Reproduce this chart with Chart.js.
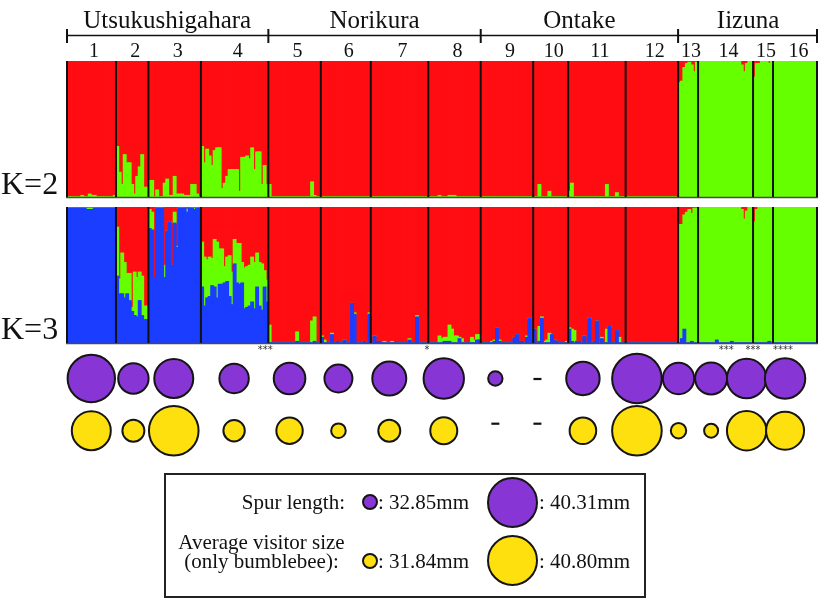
<!DOCTYPE html>
<html>
<head>
<meta charset="utf-8">
<script src="https://cdn.jsdelivr.net/npm/chart.js@4.4.1/dist/chart.umd.min.js"></script>
<style>
  html, body { margin: 0; padding: 0; background: #fff; }
  #wrap { position: relative; width: 825px; height: 599px; overflow: hidden;
          font-family: "Liberation Serif", "Times New Roman", serif; color: #111; }
  #wrap canvas { position: absolute; left: 0; top: 0; }
  .box { position: absolute; left: 164px; top: 473px; width: 482px; height: 125px;
         box-sizing: border-box; border: 2px solid #222; }
  .t { position: absolute; font-size: 21px; line-height: 24px; white-space: nowrap; }
  .dot { position: absolute; box-sizing: border-box; border: 2px solid #151515; border-radius: 50%; }
</style>
</head>
<body>
<div id="wrap">
  <canvas id="k2" width="825" height="599"></canvas>
  <canvas id="k3" width="825" height="599"></canvas>
  <canvas id="traits" width="825" height="599"></canvas>
  <div class="box"></div>
  <div id="legend"></div>
</div>
<script>
// --- data ---
const regions = ['Utsukushigahara', 'Norikura', 'Ontake', 'Iizuna'];
const regionPops = [4, 4, 4, 4];
const popLabels = ['1', '2', '3', '4', '5', '6', '7', '8', '9', '10', '11', '12', '13', '14', '15', '16'];

// K=2: green membership (%) of every individual, one list per population (rest is red)
const k2Green = [
  [0,0,0,0,0,0,1,0,0,2,1,1,0,0,0,0,0,0,0,1],
  [37,18,9,31,25,25,9,2,15,22,31,7,7],
  [12,12,0,5,0,0,10,13,1,1,15,2,2,2,1,1,1,9,9,2,0],
  [37,25,35,30,23,34,36,36,6,10,15,20,20,20,20,4,29,29,30,28,36,20,33,33,9,23,9],
  [9,0,0,0,0,0,0,0,0,0,0,0,0,0,0,0,0,11,1,0,0],
  [0,0,0,0,0,0,0,0,0,0,0,0,0,0,0,0,0,0,0,0],
  [0,0,0,0,0,0,0,0,0,0,0,0,0,0,0,0,0,0,0,0,0,0,0],
  [0,0,0,0,1,0,0,0,1,1,1,0,0,0,0,0,0,0,0,0,0],
  [0,0,0,0,0,0,0,0,0,0,0,0,0,0,0,0,0,0,0,0,0],
  [0,0,9,0,0,0,4,0,0,0,0,0,0,0],
  [4,10,0,0,0,0,0,0,0,0,0,0,0,0,0,9,0,0,0,3,0,0,0],
  [0,0,0,0,0,0,0,0,0,0,0,0,0,0,0,0,0,0,0,0,0],
  [84,85,95,98,99,97,92,99],
  [100,100,100,100,100,100,100,100,100,100,100,100,100,100,100,100,100,97,92,98,100,100],
  [88,98,98,100,100,100,98,100],
  [100,100,100,100,100,100,100,100,100,100,100,100,100,100,100,100,100,100]
];

// K=3: green and blue membership (%), red is the rest
const k3Green = [
  [0,0,0,0,0,0,0,0,1,1,1,0,0,0,0,0,0,0,0,0],
  [36,11,30,26,15,20,3,32,29,21,29,10,10],
  [14,13,0,0,0,0,9,0,0,0,8,1,0,0,0,2,0,0,1,0,0],
  [33,36,28,29,20,35,41,26,26,12,18,30,24,18,29,30,15,30,30,30,33,34,25,32,34,12,16],
  [13,0,0,0,0,0,0,0,0,0,0,7,0,0,0,0,0,16,18,0,0],
  [1,2,0,0,1,0,0,0,0,0,0,0,0,1,0,0,0,0,0,1],
  [0,0,0,0,0,1,0,0,1,0,0,0,0,0,0,1,0,0,1,0,0,0,0],
  [0,0,0,0,5,3,3,3,12,10,5,5,1,3,0,0,0,4,2,4,4],
  [0,0,0,0,1,1,0,1,0,0,0,0,0,0,0,0,0,0,1,0,0],
  [0,0,11,1,1,2,7,0,0,0,0,0,0,1],
  [1,9,9,0,0,0,0,0,0,0,0,0,0,1,0,10,0,0,0,0,4,0,0],
  [0,0,0,0,0,0,0,0,0,0,0,0,0,0,0,0,0,0,0,0,0],
  [87,84,84,96,98,94,99,99],
  [100,100,100,100,100,100,100,98,100,100,100,100,100,99,100,100,100,98,91,97,100,100],
  [89,98,100,100,100,100,99,100],
  [100,100,100,100,100,100,100,100,100,100,100,100,100,100,100,100,100,100]
];
const k3Blue = [
  [99,99,99,99,99,99,99,99,98,98,98,99,99,99,99,99,99,99,99,99],
  [49,36,36,33,36,31,23,20,19,31,20,17,17],
  [84,83,48,99,99,99,48,82,89,57,88,70,99,99,99,96,99,99,98,99,99],
  [41,27,33,34,42,41,33,43,43,44,45,34,28,58,44,43,44,25,26,27,30,25,41,27,24,41,30],
  [0,0,0,0,0,0,0,0,0,0,0,1,0,0,0,0,0,0,1,0,0],
  [4,0,0,0,6,0,1,0,0,2,0,0,29,21,0,0,0,1,0,21],
  [0,5,1,1,0,0,0,0,0,0,0,0,0,0,0,2,0,0,19,0,0,0,0],
  [0,0,0,0,0,0,1,1,1,0,0,0,3,0,0,0,0,0,0,2,2],
  [0,0,0,0,0,1,11,1,0,0,0,0,0,4,6,1,1,0,4,18,3],
  [10,0,1,18,0,0,0,6,2,1,0,0,0,0],
  [10,1,0,1,1,0,5,0,18,0,1,16,0,3,0,0,12,0,0,9,0,0,0],
  [0,0,0,0,0,0,0,0,0,0,0,0,0,0,0,0,0,0,0,0,0],
  [0,3,10,0,0,1,0,0],
  [0,0,0,0,0,0,0,2,0,0,0,0,0,1,0,0,0,0,0,0,0,0],
  [0,0,0,0,0,0,1,0],
  [0,0,0,0,0,0,0,0,0,0,0,0,0,0,0,0,0,0]
];

// population means (mm); null = no data (drawn as a dash)
const spurLength  = [39.85, 36.29, 38.09, 36.08, 36.54, 35.78, 37.04, 38.38, 32.93, null, 36.92, 40.31, 36.50, 36.62, 38.17, 38.38];
const visitorSize = [38.13, 33.85, 40.80, 33.70, 34.96, 31.99, 33.85, 35.11, null, null, 35.01, 40.80, 32.19, 31.84, 38.23, 37.88];
const spurRange = [32.85, 40.31];
const visitorRange = [31.84, 40.80];

const sigMarks = ['***', '*', '***', '***', '****'];

// --- layout / style ---
const RED = '#ff0d12', GREEN = '#66ff00', BLUE = '#1a3dff';
const PURPLE = '#8835d5', YELLOW = '#ffe00f', INK = '#111';
const SERIF = '"Liberation Serif", "Times New Roman", serif';
const sigAt = [79.3, 144, 263.8, 274.5, 286.5];          // individual-index positions of the marks
const bubbleNudge = [1, 3, 2, 4, 1, 0, -1.5, -0.5, 0, -0.5, 0, 0.5, 7, 3, 2, 9]; // px, packed circles
const R_MIN = 8, R_MAX = 25.8;

const counts = k2Green.map(p => p.length);
const starts = [];
let total = 0;
counts.forEach(n => { starts.push(total); total += n; });
const ids = [];
counts.forEach((n, p) => { for (let i = 0; i < n; i++) ids.push(popLabels[p] + '-' + (i + 1)); });

const edge = (x, i) => x.getPixelForValue(i - 0.5);

const common = (top, bottom) => ({
    responsive: false,
    animation: false,
    events: [],
    layout: { padding: { left: 66, right: 7, top: top, bottom: 599 - bottom } },
    plugins: { legend: { display: false }, tooltip: { enabled: false } },
    datasets: { bar: { barPercentage: 1, categoryPercentage: 1, borderWidth: 0, inflateAmount: 0.7 } },
    scales: {
        x: { stacked: true, display: false },
        y: { stacked: true, display: false, min: 0, max: 100 }
    }
});

// black separators between populations + base line
const frame = {
    id: 'frame',
    beforeDatasetsDraw(chart) {
        const { ctx, chartArea: a } = chart;
        ctx.save();
        ctx.beginPath();
        ctx.rect(a.left, a.top, a.right - a.left, a.bottom - a.top);
        ctx.clip();
    },
    afterDatasetsDraw(chart) {
        const { ctx, chartArea: a, scales: { x } } = chart;
        ctx.restore();
        ctx.save();
        ctx.strokeStyle = '#4a4a4a';
        ctx.lineWidth = 1.5;
        ctx.beginPath();
        ctx.moveTo(a.left, a.bottom + 0.5);
        ctx.lineTo(a.right, a.bottom + 0.5);
        ctx.stroke();
        ctx.strokeStyle = INK;
        ctx.lineWidth = 2;
        starts.concat([total]).forEach(s => {
            const px = Math.min(Math.max(edge(x, s), a.left + 1), a.right - 1);
            ctx.beginPath();
            ctx.moveTo(px, a.top);
            ctx.lineTo(px, a.bottom);
            ctx.stroke();
        });
        ctx.restore();
    }
};

const kLabel = (text, lift) => ({
    id: 'klabel',
    afterDraw(chart) {
        const { ctx, chartArea: a } = chart;
        ctx.save();
        ctx.fillStyle = INK;
        ctx.font = '32px ' + SERIF;
        ctx.textAlign = 'left';
        ctx.fillText(text, 1, a.bottom - lift);
        ctx.restore();
    }
});

// region names, bracket and population numbers above the K=2 panel
const header = {
    id: 'header',
    afterDraw(chart) {
        const { ctx, scales: { x } } = chart;
        ctx.save();
        ctx.fillStyle = INK;
        ctx.strokeStyle = INK;
        ctx.textAlign = 'center';
        ctx.font = '25px ' + SERIF;
        const ticks = [edge(x, 0) + 1];
        let p0 = 0;
        regions.forEach((name, r) => {
            const p1 = p0 + regionPops[r];
            const a = edge(x, starts[p0]);
            const b = edge(x, p1 < counts.length ? starts[p1] : total);
            ctx.fillText(name, (a + b) / 2, 28);
            ticks.push(p1 < counts.length ? b : b - 1);
            p0 = p1;
        });
        ctx.lineWidth = 1.3;
        ctx.beginPath();
        ctx.moveTo(ticks[0], 35.5);
        ctx.lineTo(ticks[ticks.length - 1], 35.5);
        ctx.stroke();
        ctx.lineWidth = 2;
        ticks.forEach(t => {
            ctx.beginPath();
            ctx.moveTo(t, 29);
            ctx.lineTo(t, 43);
            ctx.stroke();
        });
        ctx.font = '20px ' + SERIF;
        popLabels.forEach((lab, p) => {
            const c = x.getPixelForValue(starts[p] + counts[p] / 2 - 0.5);
            ctx.fillText(lab, c + 3, 57);
        });
        ctx.restore();
    }
};

const sigText = {
    id: 'sig',
    afterDraw(chart) {
        const { ctx, chartArea: a, scales: { x } } = chart;
        ctx.save();
        ctx.fillStyle = '#333';
        ctx.font = '10px "DejaVu Sans"';
        ctx.textAlign = 'center';
        sigMarks.forEach((m, k) => ctx.fillText(m, x.getPixelForValue(sigAt[k]), a.bottom + 10));
        ctx.restore();
    }
};

// --- K=2 panel ---
new Chart(document.getElementById('k2'), {
    type: 'bar',
    data: {
        labels: ids,
        datasets: [
            { data: k2Green.flat(), backgroundColor: GREEN },
            { data: k2Green.flat().map(v => 100 - v), backgroundColor: RED }
        ]
    },
    options: common(61, 197),
    plugins: [frame, header, kLabel('K=2', 3)]
});

// --- K=3 panel ---
const g3 = k3Green.flat(), b3 = k3Blue.flat();
new Chart(document.getElementById('k3'), {
    type: 'bar',
    data: {
        labels: ids,
        datasets: [
            { data: b3, backgroundColor: BLUE },
            { data: g3, backgroundColor: GREEN },
            { data: g3.map((g, i) => Math.max(0, 100 - g - b3[i])), backgroundColor: RED }
        ]
    },
    options: common(207, 343),
    plugins: [frame, sigText, kLabel('K=3', 4)]
});

// --- trait circles ---
const radius = (mm, range) => R_MIN + (mm - range[0]) / (range[1] - range[0]) * (R_MAX - R_MIN);
const unitPx = 752 / total;
const centre = p => starts[p] + counts[p] / 2 - 0.5 + bubbleNudge[p] / unitPx;
const toBubbles = (vals, range, row) => vals
    .map((v, p) => v === null ? null : { x: centre(p), y: row, r: radius(v, range) - 1 })
    .filter(d => d);

const dashes = {
    id: 'dashes',
    afterDatasetsDraw(chart) {
        const { ctx, scales: { x, y } } = chart;
        ctx.save();
        ctx.strokeStyle = INK;
        ctx.lineWidth = 2.2;
        [[spurLength, 1, 0.5], [visitorSize, 0, -7]].forEach(([vals, row, dy]) => {
            vals.forEach((v, p) => {
                if (v !== null) return;
                const cx = x.getPixelForValue(centre(p));
                const cy = y.getPixelForValue(row) + dy;
                ctx.beginPath();
                ctx.moveTo(cx - 4, cy);
                ctx.lineTo(cx + 4, cy);
                ctx.stroke();
            });
        });
        ctx.restore();
    }
};

new Chart(document.getElementById('traits'), {
    type: 'bubble',
    data: {
        datasets: [
            { data: toBubbles(spurLength, spurRange, 1), backgroundColor: PURPLE, borderColor: '#151515', borderWidth: 2, clip: false },
            { data: toBubbles(visitorSize, visitorRange, 0), backgroundColor: YELLOW, borderColor: '#151515', borderWidth: 2, clip: false }
        ]
    },
    options: {
        responsive: false,
        animation: false,
        events: [],
        layout: { padding: { left: 66, right: 7, top: 378.5, bottom: 599 - 430.7 } },
        plugins: { legend: { display: false }, tooltip: { enabled: false } },
        scales: {
            x: { type: 'linear', min: -0.5, max: total - 0.5, display: false },
            y: { type: 'linear', min: 0, max: 1, display: false }
        }
    },
    plugins: [dashes]
});

// --- legend box ---
const legend = document.getElementById('legend');
const addText = (txt, css) => {
    const d = document.createElement('div');
    d.className = 't';
    d.textContent = txt;
    Object.assign(d.style, css);
    legend.appendChild(d);
};
const addDot = (cx, cy, r, color) => {
    const d = document.createElement('div');
    d.className = 'dot';
    Object.assign(d.style, { left: (cx - r) + 'px', top: (cy - r) + 'px', width: 2 * r + 'px', height: 2 * r + 'px', background: color });
    legend.appendChild(d);
};
addText('Spur length:', { right: (825 - 345) + 'px', top: '490px' });
addDot(370.3, 502.3, radius(spurRange[0], spurRange), PURPLE);
addText(': ' + spurRange[0].toFixed(2) + 'mm', { left: '378px', top: '490px' });
addDot(512.3, 502.3, radius(spurRange[1], spurRange), PURPLE);
addText(': ' + spurRange[1].toFixed(2) + 'mm', { left: '539px', top: '490px' });
addText('Average visitor size', { left: '161px', width: '201px', textAlign: 'center', top: '530px' });
addText('(only bumblebee):', { left: '161px', width: '201px', textAlign: 'center', top: '549px' });
addDot(370.3, 560.7, radius(visitorRange[0], visitorRange), YELLOW);
addText(': ' + visitorRange[0].toFixed(2) + 'mm', { left: '378px', top: '549px' });
addDot(512.3, 560.7, radius(visitorRange[1], visitorRange), YELLOW);
addText(': ' + visitorRange[1].toFixed(2) + 'mm', { left: '539px', top: '549px' });
</script>
</body>
</html>
